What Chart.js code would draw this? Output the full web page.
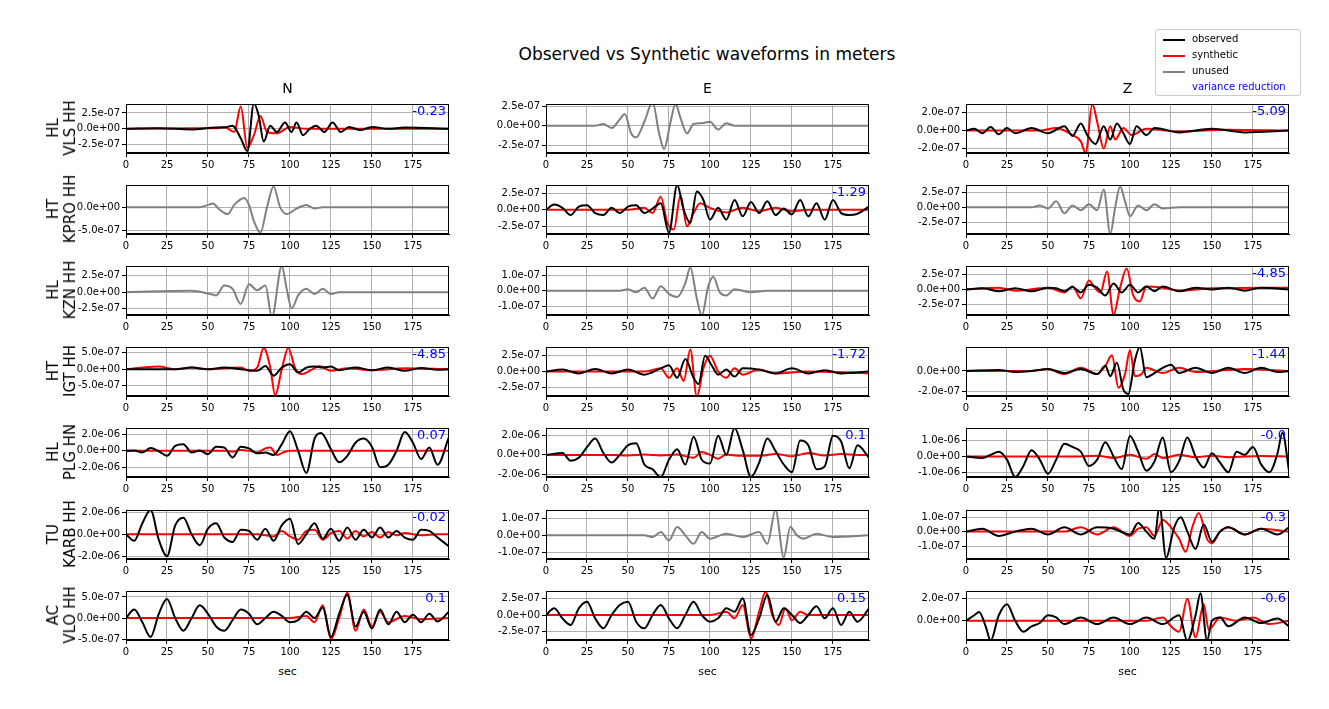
<!DOCTYPE html>
<html><head><meta charset="utf-8">
<script src="https://cdn.jsdelivr.net/npm/chart.js@4.4.1/dist/chart.umd.min.js"></script>
<style>
body{margin:0;background:#fff;font-family:"DejaVu Sans",sans-serif;}
#wrap{position:relative;width:1329px;height:709px;overflow:hidden}
canvas{position:absolute}
.t{position:absolute;white-space:nowrap;color:#000}
.rl{position:absolute;transform:translate(-50%,-50%) rotate(-90deg);text-align:center;font-size:15px;line-height:17px;white-space:nowrap}
.vr{position:absolute;color:#0000ff;font-size:13px;transform:translateX(-100%)}
</style></head><body><div id="wrap"></div>
<script>
const stations=[["HL","VLS HH"],["HT","KPRO HH"],["HL","KZN HH"],["HT","IGT HH"],["HL","PLG HN"],["TU","KARB HH"],["AC","VLO HH"]];
const comps=["N","E","Z"];
const vrLabels=[["-0.23","","-5.09"],["","-1.29",""],["","","-4.85"],["-4.85","-1.72","-1.44"],["0.07","0.1","-0.0"],["-0.02","","-0.3"],["0.1","0.15","-0.6"]];
const xTicks=[0,25,50,75,100,125,150,175];
const yRange=[[[-3.8,3.9],[-3.5,2.77],[-2.5,2.97]],[[-5.8,4.8],[-3.7,3.8],[-4.5,3.75]],[[-3.5,4.0],[-1.56,1.6],[-4.25,3.9]],[[-8.2,6.8],[-3.9,3.9],[-2.4,2.3]],[[-32,28],[-23,28],[-13,18]],[[-22.5,22],[-1.4,1.5],[-1.9,1.5]],[[-5.2,6.4],[-3.75,3.6],[-1.74,2.7]]];
const yTicks=[[[2.5,0,-2.5],[2.5,0,-2.5],[2,0,-2]],[[0,-5],[2.5,0,-2.5],[2.5,0,-2.5]],[[2.5,0,-2.5],[1,0,-1],[2.5,0,-2.5]],[[5,0,-5],[2.5,0,-2.5],[0,-2]],[[20,0,-20],[20,0,-20],[10,0,-10]],[[20,0,-20],[1,0,-1],[1,0,-1]],[[5,0,-5],[2.5,0,-2.5],[2,0]]];
const obs_1N=[0,0,20,0.1,40,-0.1,55,0.2,60,0.2,65,0.5,70,-1.5,74,-3.5,78,4,81,2,84,-2,88,0.5,92,-0.5,97,1,101,-0.5,104,1,108,-1,112,0,116,0.5,121,-0.5,126,1,131,-0.5,136,0.3,143,-0.2,150,0.3,160,0,170,0.2,197,0];
const syn_1N=[0,0,40,0.1,55,0.1,60,0.3,66,-0.5,70,3.5,74,-3,78,-1,82,2,86,-0.5,92,-0.7,100,0.3,110,0,197,0];
const gry_1E=[0,0,30,0,35,0.2,40,-0.3,45,0.8,48,1.5,52,-1,55,-1.5,60,0.5,65,3,69,-1,72,-3,76,0.5,79,2.8,82,1,86,-1,90,0.2,95,0.3,100,0.5,105,-0.5,110,0.3,115,0,197,0];
const obs_1Z=[0,0,5,0.2,10,-0.3,15,0.4,20,-0.4,25,0.3,30,-0.3,40,0.3,50,-0.3,60,0.5,65,-0.6,70,0.8,74,-0.5,79,-1.5,84,0.5,88,-1,92,0.8,96,-0.3,100,-1.5,104,0.5,110,-0.5,115,0.3,130,-0.2,150,0.2,170,-0.2,197,0];
const syn_1Z=[0,0,45,0,55,0.3,65,-0.5,70,-1.2,73,-2.5,77,3,80,1,84,-2,88,0.5,91,-1,96,0.3,101,-0.5,110,0.2,130,-0.1,160,0.1,197,0];
const gry_2N=[0,0,45,0,50,0.5,53,0.8,57,-0.5,62,-1.5,66,0.5,72,2,75,0.5,78,-3,82,-5.5,86,0,90,4.5,94,0,98,-1.5,104,-0.3,110,0.5,115,-0.3,120,0,197,0];
const obs_2E=[0,0,5,0.8,10,0.3,15,-0.8,20,0.5,25,0.7,30,-0.5,35,-0.8,40,0.3,45,-0.5,50,0.5,55,0.7,60,-0.5,65,0.2,70,1,75,-3.5,80,3.8,84,0,88,-2,92,2.8,96,1.5,100,-1.5,105,0.3,110,-1.5,115,1.5,120,-1,125,1.2,130,-0.5,135,1.3,140,-0.8,145,0.2,150,-0.7,155,1.5,160,-1,165,1,170,-1.5,175,1.5,180,-0.5,185,-0.8,190,-0.6,197,0.5];
const syn_2E=[0,0,50,0,60,0.3,65,-0.5,70,2,74,-2,78,-3,82,2.2,86,-2.5,90,-0.5,94,1,100,0.3,110,-0.4,120,0.3,130,-0.2,140,0.3,150,-0.2,160,0,197,0];
const gry_2Z=[0,0,40,0,45,0.3,50,-0.2,55,1,60,-1,65,0.3,70,-0.5,75,0.5,80,-0.5,84,3,88,-4.5,91,0,94,3.5,97,1,100,-1.5,105,0.3,110,-0.5,115,0.5,120,-0.2,130,0,197,0];
const gry_3N=[0,0,40,0.2,50,-0.2,55,-0.5,60,1,65,0.5,70,-1.8,75,1.2,80,0.3,85,1,89,-3.8,95,4,98,0.5,101,-2.5,105,-0.5,110,0.5,115,-0.3,120,0.5,125,-0.3,130,0,197,0];
const gry_3E=[0,0,45,0,50,0.1,55,-0.1,60,0.2,65,-0.5,70,0.3,75,-0.2,80,-0.4,85,0.5,88,1.5,92,-0.5,95,-1.6,99,0.3,102,0.9,106,-0.1,110,-0.3,115,0.1,125,-0.1,135,0,197,0];
const obs_3Z=[0,0,10,0.2,20,-0.3,30,0.2,40,-0.3,50,0.3,55,0.2,60,-0.3,65,0.4,70,-0.5,75,0.8,80,0.3,85,-1,90,1,95,-0.5,100,0.8,105,-0.5,110,0.5,115,-0.3,120,0.5,130,-0.3,140,0.3,150,0,160,0.3,170,-0.2,180,0.3,197,0];
const syn_3Z=[0,0,20,0.3,30,-0.2,50,0.3,60,-0.5,65,0.5,70,-1.5,75,1.5,78,0.5,82,-0.5,86,3,90,-4.2,94,0.3,98,3.5,102,-1,106,-2,110,0.5,120,0.3,130,-0.2,150,0.2,197,0.3];
const obs_4N=[0,0,30,0,40,0.5,50,0,60,0.5,70,0,80,-0.5,85,1,90,-2,95,0.5,100,1.5,105,-1,110,0.5,115,0.8,120,0.5,125,0.8,130,-0.3,140,0.5,150,-0.3,160,0.5,170,-0.5,180,0.4,190,-0.2,197,0];
const syn_4N=[0,0,10,0.5,20,0.8,30,0,40,0.5,50,0,60,0.3,70,0.5,75,-0.5,80,0.5,84,6.5,88,0.5,91,-8,95,0,99,6.5,103,0.5,107,-1.5,112,-0.5,118,1,125,-0.5,135,0.3,150,-0.3,170,0.3,197,0];
const obs_4E=[0,0,10,0.3,20,-0.3,30,0.4,40,-0.3,50,0.3,60,-0.5,70,0.5,75,1,80,-1,85,2,90,-1,93,-2,97,2.5,101,1,105,-0.5,110,0.3,115,-0.8,120,0.5,130,0.3,140,-0.3,150,0.5,160,-0.3,170,0.2,180,-0.3,197,0];
const syn_4E=[0,0,60,0,70,0.5,75,-1,80,0.5,84,-1.5,88,3.5,92,-4,96,0.5,100,2.5,105,0,110,-1,115,0.5,120,-0.5,130,0.3,140,-0.3,160,0,197,-0.3];
const obs_4Z=[0,0,20,0.1,30,-0.1,40,0,50,0.2,60,-0.2,70,0.2,80,-0.3,85,0.5,88,-0.5,92,0.8,96,-1.8,99,-2.2,103,1,106,2.3,110,-0.6,114,-0.3,120,0.3,125,0.6,130,-0.2,140,0.3,150,-0.2,160,0.3,170,-0.2,180,0.3,190,-0.1,197,0];
const syn_4Z=[0,0,40,0,50,0.2,60,-0.3,70,0.3,80,-0.3,85,0.5,89,1.5,93,-1.6,97,-0.3,100,2,103,-0.5,107,-0.3,110,0.3,120,-0.2,130,0.3,140,-0.1,170,0.2,197,0];
const obs_5N=[0,0,5,0.5,10,-2,15,3.5,20,-0.5,25,-6,30,6,35,8,40,-2,45,0.5,50,-4,55,5,60,4,65,-8,70,5,75,3,80,-3,85,-2,90,-5,95,8,100,24,105,0,110,-27,115,15,119,22,125,2,130,-14,135,-6,140,10,145,15,150,5,155,-20,160,-17,165,0,170,23,175,10,180,-10,185,4,190,-17,197,17];
const syn_5N=[0,0,60,0,65,-1,70,1,75,0,80,-2,85,3,88,4,92,-5,97,-1,100,0,110,0,197,0];
const obs_5E=[0,0,10,2,15,-6,20,-3,25,8,30,17,35,2,40,-8,45,0,50,10,55,12,60,-10,65,-15,70,-23,75,-5,80,6,85,-10,90,19,95,-5,100,-9,105,20,110,0,115,28,120,5,125,-23,130,-8,135,17,140,4,145,-10,150,-18,155,15,160,10,165,-15,170,-12,175,20,180,14,185,-14,190,10,197,-3];
const syn_5E=[0,0,40,0,50,-0.5,60,0.5,70,-0.5,80,0.5,90,-3,95,3,100,0,105,-4,110,0.5,115,-0.5,130,-1,140,1,150,-1.5,160,2,170,-0.5,180,1,190,0,197,0];
const obs_5Z=[0,0,10,-1,15,1,20,3,25,-2,30,-13,35,-6,40,4,45,-2,50,-11,55,-2,60,8,65,6,70,3,75,-6,80,-2,85,9,90,0,95,-8,100,13,105,3,110,-9,115,-3,120,12,125,-10,130,-3,135,12,140,0,145,-7,150,2,155,-4,160,-10,165,3,170,1,175,6,180,-5,185,-10,190,2,193,15,197,-9];
const syn_5Z=[0,0,70,0,80,0.5,90,-1,100,1,110,-1.5,115,1.5,120,-1,130,1,140,-0.5,150,0.5,160,-0.5,180,0.3,197,0];
const obs_6N=[0,0,5,-6,10,10,15,22,20,-5,25,-20,30,8,35,15,40,0,45,-10,50,5,55,10,60,-3,65,-7,70,4,75,3,80,-5,85,5,90,-6,95,8,100,14,105,-9,110,0,115,10,120,-4,125,5,130,-6,135,6,140,-5,145,4,150,-3,155,6,160,-3,165,3,170,-3,175,-5,180,4,185,3,190,-3,197,-11];
const syn_6N=[0,0,80,0,90,-2,95,3,100,-2,105,-5,110,3,115,4,120,-5,125,1,130,3,135,-4,140,3,145,-2,150,2,155,-3,160,2,165,-1,170,1,180,-1,190,0,197,0];
const gry_6E=[0,0,60,0,65,-0.1,70,0.2,75,-0.3,80,0.5,85,0,90,-0.5,95,0.2,100,-0.2,110,0.1,120,-0.1,130,0.2,135,-0.5,140,1.5,145,-1.3,149,0.5,153,0,157,-0.2,165,0.1,175,-0.1,197,0];
const obs_6Z=[0,0,10,0.2,20,-0.3,30,0,40,0.2,50,-0.2,60,0.3,70,-0.2,80,0.3,90,0.2,100,-0.2,105,0.6,110,0,115,-0.5,118,1.8,122,-1.8,127,0.3,131,1,135,0,140,-1.2,145,0.5,150,-0.7,155,0,160,0.3,170,-0.2,180,0.2,190,-0.2,197,0.3];
const syn_6Z=[0,0,60,0,70,0.3,80,-0.2,90,0.3,100,-0.3,105,0.2,110,0.3,115,-0.3,120,0.8,125,0.3,130,-0.5,134,-1.4,138,0.3,142,1.3,147,-0.5,150,-0.8,155,0,160,0.3,170,-0.2,180,0.2,197,0];
const obs_7N=[0,0,5,2,10,-1,15,-4.5,20,1,25,4.5,30,0,35,-3,40,0,45,3,50,1,55,-2,60,-3,65,-0.5,70,2,75,1,80,-1.5,85,0,90,1.5,95,0.5,100,-1,105,-0.5,110,1.5,115,0,120,2.5,125,-4.5,130,1,135,5.5,140,-2,145,1.5,150,-2.5,155,2,160,-1.5,165,1.5,170,-1,175,0.8,180,-1,185,1,190,-0.8,197,1.5];
const syn_7N=[0,0,100,0,110,0.5,115,-1,120,3,125,-5,130,0,135,6,140,-3,145,2,150,-2,155,1.5,160,-1,170,0.5,180,-0.3,197,0];
const obs_7E=[0,0,5,1,10,-0.5,15,-1.5,20,1,25,2,30,-0.5,35,-2,40,0,45,1.5,50,2,55,-1,60,-2,65,0,70,1.5,75,-0.5,80,-2,85,0,90,2,95,0,100,-1,105,-0.5,110,1,115,0.5,120,2.5,125,-3,130,-0.5,135,3,140,-1,145,1,150,0,155,-1.2,160,0,165,1.3,170,-0.5,175,1,180,-1.5,185,0.5,190,-1,197,1];
const syn_7E=[0,0,100,0,110,0.5,115,-0.5,120,1.5,125,-3.5,130,0.5,134,3.5,138,0,142,-1.5,146,1,150,-0.8,155,0.5,160,0,197,0];
const obs_7Z=[0,0,5,0.5,8,0.8,12,-0.5,15,-1.8,20,0.5,25,1.5,30,0,35,-1,40,-0.5,45,-0.2,50,0.5,55,0.3,60,-0.3,70,0.3,80,-0.3,90,0.3,100,-0.3,110,0.3,120,-0.3,130,0.5,135,-1.8,140,0.5,143,2.5,147,-1.8,150,0,155,0.3,160,-0.5,170,0.3,180,-0.2,190,0.2,197,-0.5];
const syn_7Z=[0,0,110,0,120,0.3,125,-0.5,130,-1,135,2,140,-1.5,145,1.5,148,-0.8,155,0.3,165,0,175,0.3,185,-0.3,197,0];

const traces=[
 [[obs_1N,syn_1N,null],[null,null,gry_1E],[obs_1Z,syn_1Z,null]],
 [[null,null,gry_2N],[obs_2E,syn_2E,null],[null,null,gry_2Z]],
 [[null,null,gry_3N],[null,null,gry_3E],[obs_3Z,syn_3Z,null]],
 [[obs_4N,syn_4N,null],[obs_4E,syn_4E,null],[obs_4Z,syn_4Z,null]],
 [[obs_5N,syn_5N,null],[obs_5E,syn_5E,null],[obs_5Z,syn_5Z,null]],
 [[obs_6N,syn_6N,null],[null,null,gry_6E],[obs_6Z,syn_6Z,null]],
 [[obs_7N,syn_7N,null],[obs_7E,syn_7E,null],[obs_7Z,syn_7Z,null]]
];

const colL=[126,546,966], plotW=323, rowT=[102,183,264,345,426,508,589], plotH=51;
const wrap=document.getElementById('wrap');
function txt(cls,html,x,y,style){const d=document.createElement('div');d.className=cls;d.innerHTML=html;d.style.left=x+'px';d.style.top=y+'px';if(style)Object.assign(d.style,style);wrap.appendChild(d);return d;}
function pts(a){const r=[];for(let i=0;i<a.length;i+=2)r.push({x:a[i],y:a[i+1]});return r;}
function fmt(v){if(Math.abs(v)<1e-12)return "0.0e+00";let e=Math.floor(Math.log10(Math.abs(v))+1e-9);let s=(v/Math.pow(10,e)).toFixed(1);if(Math.abs(parseFloat(s))>=10){e++;s=(v/Math.pow(10,e)).toFixed(1);}const E=e-7;return s+"e"+(E<0?"-":"+")+String(Math.abs(E)).padStart(2,"0");}
const boxPlugin={id:'box',afterDraw(ch){const a=ch.chartArea,c=ch.ctx;c.save();c.strokeStyle='#000';c.lineWidth=1;c.strokeRect(a.left+0.5,a.top+0.5,a.right-a.left-1,a.bottom-a.top-1);c.restore();}};

const PL=70,PT=6,PR=8,PB=22;
for(let r=0;r<7;r++){for(let c=0;c<3;c++){
 const cv=document.createElement('canvas');
 const W=plotW+PL+PR,H=plotH+PT+PB;
 cv.width=W;cv.height=H;cv.style.width=W+'px';cv.style.height=H+'px';
 cv.style.left=(colL[c]-PL)+'px';cv.style.top=(rowT[r]-PT)+'px';
 wrap.appendChild(cv);
 const [o,s,g]=traces[r][c];const ds=[];
 const base={fill:false,pointRadius:0,borderWidth:2,cubicInterpolationMode:'monotone'};
 if(g)ds.push(Object.assign({data:pts(g),borderColor:'#808080'},base));
 if(o)ds.push(Object.assign({data:pts(o),borderColor:'#000000'},base));
 if(s)ds.push(Object.assign({data:pts(s),borderColor:'#ff0000'},base));
 const yt=yTicks[r][c];
 new Chart(cv,{type:'line',data:{datasets:ds},plugins:[boxPlugin],options:{
  responsive:false,animation:false,devicePixelRatio:1,
  layout:{padding:{left:0,top:PT,right:PR,bottom:0}},
  plugins:{legend:{display:false},tooltip:{enabled:false}},
  scales:{
   x:{type:'linear',min:0,max:197,
     afterBuildTicks:sc=>{sc.ticks=xTicks.map(v=>({value:v}));},
     afterFit:sc=>{sc.height=PB;},
     ticks:{color:'#000',font:{size:10,family:'DejaVu Sans'},padding:2,maxRotation:0,autoSkip:false},
     grid:{color:'#b0b0b0',tickColor:'#000',tickLength:4},border:{color:'#000'}},
   y:{type:'linear',min:yRange[r][c][0],max:yRange[r][c][1],
     afterBuildTicks:sc=>{sc.ticks=yt.map(v=>({value:v}));},
     afterFit:sc=>{sc.width=PL;},
     ticks:{color:'#000',font:{size:10,family:'DejaVu Sans'},padding:2,autoSkip:false,callback:v=>fmt(v)},
     grid:{color:'#b0b0b0',tickColor:'#000',tickLength:4},border:{color:'#000'}}
  }}});
 if(vrLabels[r][c])txt('vr',vrLabels[r][c],colL[c]+plotW-3,rowT[r]+1);
 if(r===6)txt('t','sec',colL[c]+plotW/2,rowT[r]+plotH+25,{fontSize:'11px',transform:'translateX(-50%)'});
 if(r===0)txt('t',comps[c],colL[c]+plotW/2,rowT[0]-22,{fontSize:'14px',transform:'translateX(-50%)'});
}
 txt('rl',stations[r][0]+'<br>'+stations[r][1],62,rowT[r]+plotH/2);
}
txt('t','Observed vs Synthetic waveforms in meters',707,44,{fontSize:'17px',transform:'translateX(-50%)'});
const lg=txt('t','',1155,29,{width:'144px',height:'65px',border:'1px solid #ccc',borderRadius:'3px',background:'#fff',fontSize:'10px'});
const items=[['observed','#000'],['synthetic','#f00'],['unused','#808080'],['variance reduction',null]];
items.forEach((it,i)=>{const y=3+i*16;
 if(it[1]){const l=document.createElement('div');Object.assign(l.style,{position:'absolute',left:'7px',top:(y+6)+'px',width:'22px',height:'2px',background:it[1]});lg.appendChild(l);}
 const t=document.createElement('div');t.textContent=it[0];Object.assign(t.style,{position:'absolute',left:'36px',top:y+'px',color:it[1]?'#000':'#00f'});lg.appendChild(t);
});
</script></body></html>
